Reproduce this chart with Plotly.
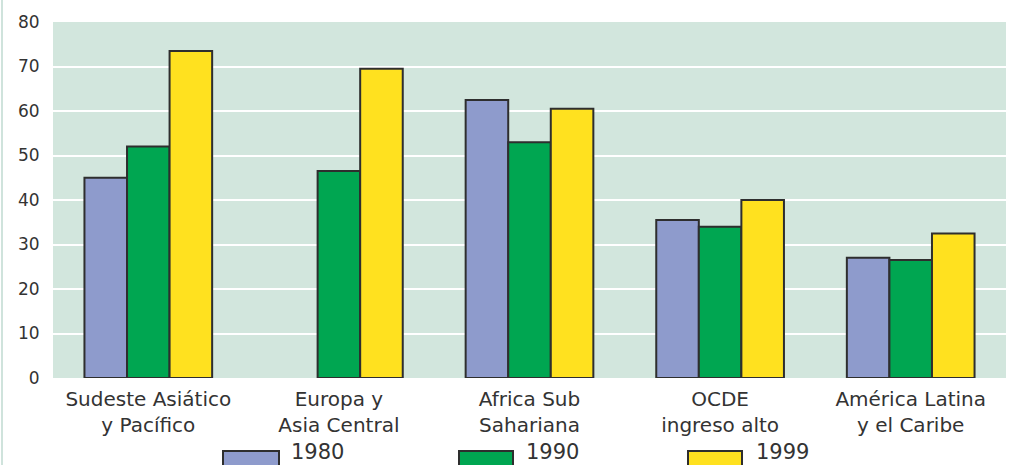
import plotly.graph_objects as go

# Regions (two-line category labels)
regions = [
    "Sudeste Asiático<br>y Pacífico",
    "Europa y<br>Asia Central",
    "Africa Sub<br>Sahariana",
    "OCDE<br>ingreso alto",
    "América Latina<br>y el Caribe",
]

years = ["1980", "1990", "1999"]

values_1980 = [45, None, 62.5, 35.5, 27]
values_1990 = [52, 46.5, 53, 34, 26.5]
values_1999 = [73.5, 69.5, 60.5, 40, 32.5]

y_ticks = [0, 10, 20, 30, 40, 50, 60, 70, 80]

series = [values_1980, values_1990, values_1999]
colors = ["#8e9bcc", "#00a651", "#ffe11f"]
outline = "#2e2e2e"
text_color = "#333333"
font_family = "DejaVu Sans, Verdana, sans-serif"

W, H = 1014, 465
L, R, T, B = 53, 8, 22, 87
plot_w = W - L - R
plot_h = H - T - B


def px_x(px):
    return (px - L) / plot_w


def px_y(py):
    return (H - B - py) / plot_h


fig = go.Figure()
for name, vals, col in zip(years, series, colors):
    fig.add_trace(go.Bar(
        x=regions, y=vals, name=name,
        marker=dict(color=col, line=dict(color=outline, width=2)),
        showlegend=False,
    ))

shapes = []
annotations = []

# Legend drawn as wide swatches with labels beneath the plot
legend_pos = [(223, 279, 290), (459, 513, 525), (688, 742, 755)]
for name, col, (x0, x1, tx) in zip(years, colors, legend_pos):
    shapes.append(dict(
        type="rect", xref="paper", yref="paper",
        x0=px_x(x0), x1=px_x(x1), y0=px_y(467), y1=px_y(451),
        fillcolor=col, line=dict(color=outline, width=2), layer="above",
    ))
    annotations.append(dict(
        text=name, xref="paper", yref="paper",
        x=px_x(tx), y=px_y(H), xanchor="left", yanchor="bottom",
        showarrow=False, borderpad=0,
        font=dict(family=font_family, size=21, color=text_color),
    ))

# Thin border line on the left edge
shapes.append(dict(
    type="line", xref="paper", yref="paper",
    x0=px_x(2), x1=px_x(2), y0=px_y(0), y1=px_y(H),
    line=dict(color="#cfe3dc", width=2),
))

fig.update_layout(
    width=W, height=H,
    margin=dict(l=L, r=R, t=T, b=B, pad=0),
    paper_bgcolor="white",
    plot_bgcolor="#d2e6dd",
    barmode="group",
    bargap=0.33,
    bargroupgap=0,
    shapes=shapes,
    annotations=annotations,
    font=dict(family=font_family, color=text_color),
)

fig.update_xaxes(
    showgrid=False, showline=False, zeroline=False,
    ticks="outside", ticklen=3, tickcolor="rgba(0,0,0,0)",
    tickfont=dict(size=20, color=text_color, family=font_family),
)
fig.update_yaxes(
    range=[0, 80], tickvals=y_ticks,
    showgrid=True, gridcolor="white", gridwidth=2,
    zeroline=False, showline=False,
    ticks="outside", ticklen=9, tickcolor="rgba(0,0,0,0)",
    tickfont=dict(size=17, color=text_color, family=font_family),
)

fig.write_html("out.html")
